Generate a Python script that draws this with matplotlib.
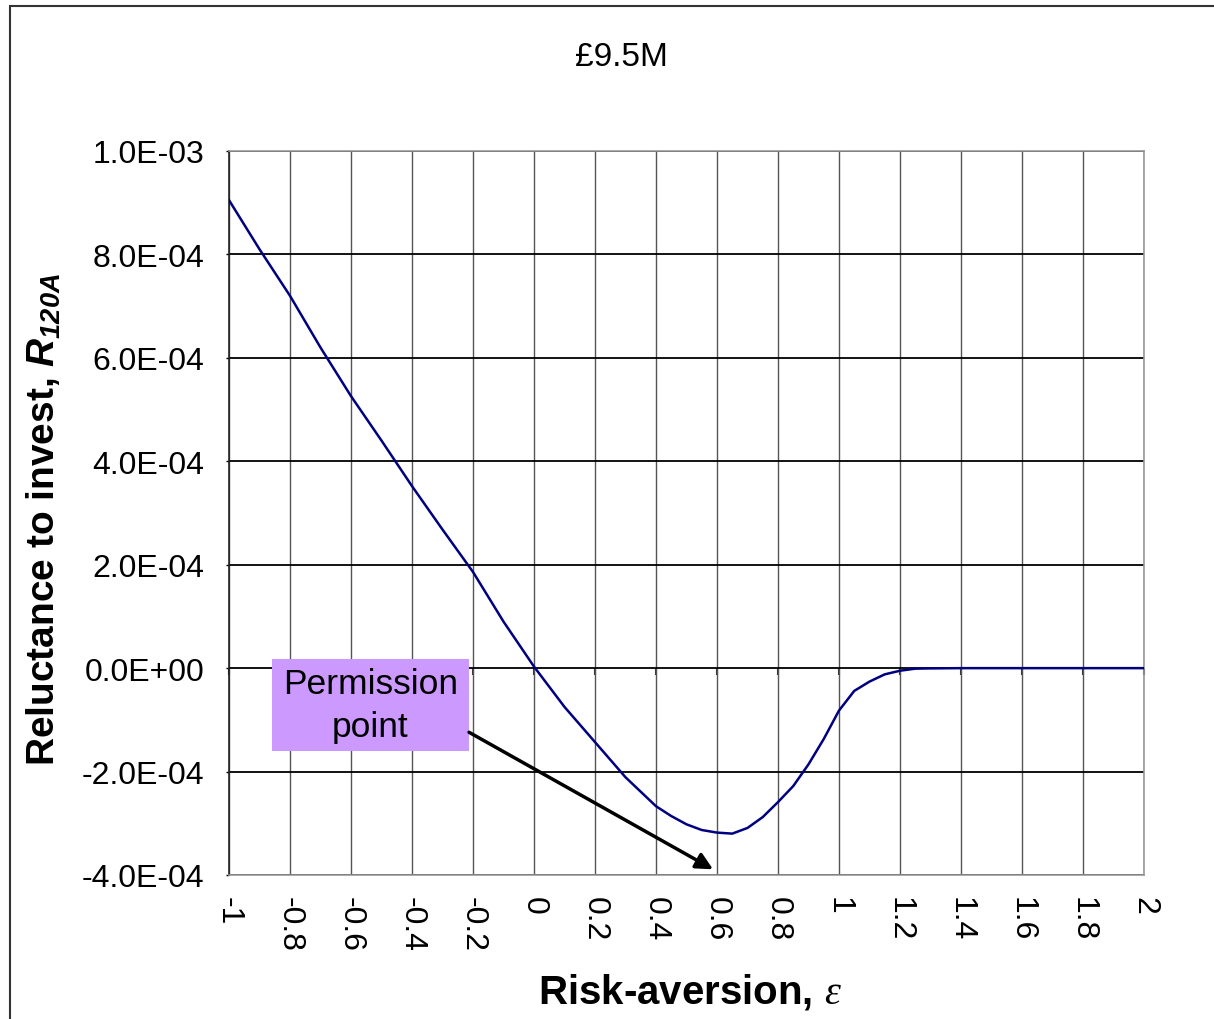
"""
Reluctance to invest vs risk-aversion (£9.5M case), Excel-style chart.
"""

import matplotlib
matplotlib.use('Agg')
import matplotlib.pyplot as plt
from matplotlib.patches import Rectangle

# ─────────────────────────────────────────────────────────────────────
# Data
# ─────────────────────────────────────────────────────────────────────

risk_aversion = [-1.0, -0.9, -0.8, -0.7, -0.6, -0.5, -0.4, -0.3, -0.2, -0.1,
                 0.0, 0.1, 0.2, 0.3, 0.4, 0.45, 0.5, 0.55, 0.6, 0.65, 0.7,
                 0.75, 0.8, 0.85, 0.9, 0.95, 1.0, 1.05, 1.1, 1.15, 1.2,
                 1.25, 1.3, 1.4, 1.5, 1.6, 1.7, 1.8, 1.9, 2.0]
reluctance = [9.05e-4, 8.1e-4, 7.2e-4, 6.2e-4, 5.26e-4, 4.4e-4, 3.52e-4,
              2.68e-4, 1.86e-4, 0.9e-4, 0.03e-4, -0.75e-4, -1.43e-4,
              -2.11e-4, -2.67e-4, -2.86e-4, -3.02e-4, -3.13e-4, -3.18e-4,
              -3.2e-4, -3.09e-4, -2.88e-4, -2.59e-4, -2.28e-4, -1.86e-4,
              -1.37e-4, -0.82e-4, -0.44e-4, -0.26e-4, -0.12e-4, -0.05e-4,
              -0.01e-4, -0.005e-4, 0.0, 0.0, 0.0, 0.0, 0.0, 0.0, 0.0]

x_ticks = [-1, -0.8, -0.6, -0.4, -0.2, 0, 0.2, 0.4, 0.6, 0.8,
           1, 1.2, 1.4, 1.6, 1.8, 2]
x_tick_labels = ['-1', '-0.8', '-0.6', '-0.4', '-0.2', '0', '0.2', '0.4',
                 '0.6', '0.8', '1', '1.2', '1.4', '1.6', '1.8', '2']
y_ticks = [-4e-4, -2e-4, 0, 2e-4, 4e-4, 6e-4, 8e-4, 1e-3]
y_tick_labels = ['-4.0E-04', '-2.0E-04', '0.0E+00', '2.0E-04',
                 '4.0E-04', '6.0E-04', '8.0E-04', '1.0E-03']

TITLE = '£9.5M'
NOTE = 'Permission\npoint'
NOTE_XY = (-0.213, -1.24e-4)     # arrow tail (box edge)
NOTE_TARGET = (0.587, -3.89e-4)  # arrow head

# ─────────────────────────────────────────────────────────────────────
# Style
# ─────────────────────────────────────────────────────────────────────

plt.rcParams['font.family'] = ['Liberation Sans', 'DejaVu Sans']
plt.rcParams['mathtext.fontset'] = 'custom'
plt.rcParams['mathtext.it'] = 'Liberation Sans:bold:italic'
plt.rcParams['mathtext.rm'] = 'Liberation Sans:bold:italic'
plt.rcParams['mathtext.bf'] = 'Liberation Serif:italic'

W, H = 1214, 1020
fig = plt.figure(figsize=(W / 100, H / 100), dpi=100)

# plot area in pixels: x 229..1144, y 152..876
ax = fig.add_axes([229 / W, 1 - 876 / H, 915 / W, 724 / H])

ax.plot(risk_aversion, reluctance, color='#000080', linewidth=1.8,
        zorder=3)

ax.set_xlim(-1, 2)
ax.set_ylim(-4e-4, 1e-3)
ax.set_xticks(x_ticks)
ax.set_xticklabels(x_tick_labels, rotation=-90, fontsize=23)
ax.set_yticks(y_ticks)
ax.set_yticklabels(y_tick_labels, fontsize=23)
ax.tick_params(axis='x', length=0, pad=15)
ax.tick_params(axis='y', length=2, width=1, pad=16, direction='out')

ax.grid(axis='y', color='black', linewidth=1.3, zorder=1)
ax.grid(axis='x', color='#555555', linewidth=1.0, zorder=1)
ax.set_axisbelow(True)

for side in ['top', 'right', 'bottom']:
    ax.spines[side].set_color('#999999')
    ax.spines[side].set_linewidth(1.2)
ax.spines['left'].set_color('#222222')
ax.spines['left'].set_linewidth(1.2)

# x-axis tick marks sit on the zero line (Excel style)
zero_frac = (0 - ax.get_ylim()[0]) / (ax.get_ylim()[1] - ax.get_ylim()[0])
sec = ax.secondary_xaxis(zero_frac)
sec.set_xticks(x_ticks)
sec.tick_params(axis='x', length=5, width=1.5, direction='out',
                labelbottom=False, labeltop=False, color='#333333')
sec.spines['bottom'].set_visible(False)
sec.spines['top'].set_visible(False)

ax.set_xlabel(r'Risk-aversion, $\mathbf{\varepsilon}$', fontsize=29,
              fontweight='bold')
ax.xaxis.set_label_coords(0.504, -0.132)
ax.set_ylabel(r'Reluctance to invest, $R_{120A}$', fontsize=28,
              fontweight='bold')
ax.yaxis.set_label_coords(-0.181, 0.492)

fig.text(621 / W, 1 - 57 / H, TITLE, fontsize=24, ha='center',
         va='center')

# annotation box + arrow
ax.add_patch(Rectangle((0.047, 0.1713), 0.2153, 0.127,
                       transform=ax.transAxes, facecolor='#cc99ff',
                       edgecolor='none', zorder=4))
ax.text(0.1546, 0.2348, NOTE, transform=ax.transAxes, fontsize=25.5,
        ha='center', va='center', linespacing=1.35, zorder=5)
ax.annotate('', xy=NOTE_TARGET, xytext=NOTE_XY,
            arrowprops=dict(arrowstyle='-|>,head_length=1.0,head_width=0.5',
                            color='black', linewidth=2.5,
                            shrinkA=0, shrinkB=0),
            zorder=5)

# outer chart frame
fig.add_artist(Rectangle((10 / W, -0.05), 1.1, 1 - 7 / H + 0.05,
                         transform=fig.transFigure, fill=False,
                         edgecolor='#333333', linewidth=1.5))

plt.savefig('out.png', dpi=100)
plt.close()
